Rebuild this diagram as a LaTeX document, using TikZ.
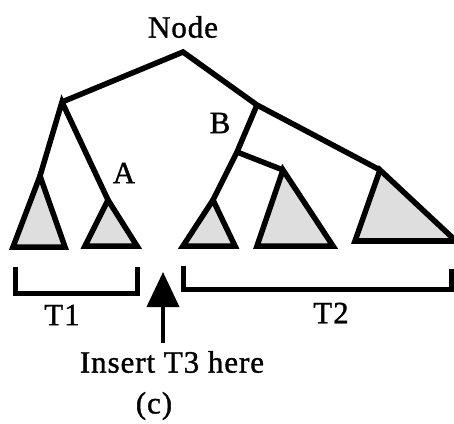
\documentclass[tikz,border=0pt]{standalone}
\usepackage{fontspec}
\setmainfont{Liberation Serif}[LetterSpace=3,FakeBold=1.2]
\usetikzlibrary{arrows.meta}
\begin{document}
\begin{tikzpicture}[x=1pt,y=1pt,
  edge/.style={line width=5.5pt,line join=miter},
  subtree/.style={line width=5.5pt,line join=miter,fill=black!13},
  lbl/.style={font=\fontsize{31}{34}\selectfont,inner sep=0pt},
  bracket/.style={line width=5pt,line join=miter}]
\useasboundingbox (0,0) rectangle (454,423);
% tree junctions
\coordinate (root) at (183,371);
\coordinate (L) at (62,321);
\coordinate (R) at (257,318);
\coordinate (Bn) at (237,271);
% subtree apexes
\coordinate (a1) at (40,247);
\coordinate (a2) at (108,223);
\coordinate (a3) at (213,223);
\coordinate (a4) at (283,253);
\coordinate (a5) at (380,253);
% edges
\draw[edge] (L) -- (root) -- (R) -- (a5);
\draw[edge] (a1) -- (L) -- (a2);
\draw[edge] (R) -- (Bn) -- (a3);
\draw[edge] (Bn) -- (a4);
% subtrees
\draw[subtree] (a1) -- (13,176) -- (65,176) -- cycle;
\draw[subtree] (a2) -- (85,177) -- (137,177) -- cycle;
\draw[subtree] (a3) -- (183,177) -- (235,177) -- cycle;
\draw[subtree] (a4) -- (257,177) -- (333,177) -- cycle;
\draw[subtree] (a5) -- (355,182) -- (456,182) -- cycle;
% labels
\node[lbl] (nodelbl) at (183,396) {Node};
\node[lbl] (B) at (220,300) {B};
\node[lbl] (A) at (124,250) {A};
% brackets
\draw[bracket] (15,156) -- (15,130) -- (137,130) -- (137,156);
\draw[bracket] (183,157) -- (183,134) -- (451,134) -- (451,154);
\node[lbl] (T1) at (62,108) {T1};
\node[lbl] (T2) at (331,110) {T2};
% insert arrow
\node[lbl] (ins) at (172,61) {Insert T3 here};
\coordinate (tip) at (163,151);
\draw[line width=4pt,-{Triangle[length=35pt,width=32pt]}] (163,80) -- (tip);
\node[lbl] (c) at (154,17) {(c)};
\end{tikzpicture}
\end{document}
